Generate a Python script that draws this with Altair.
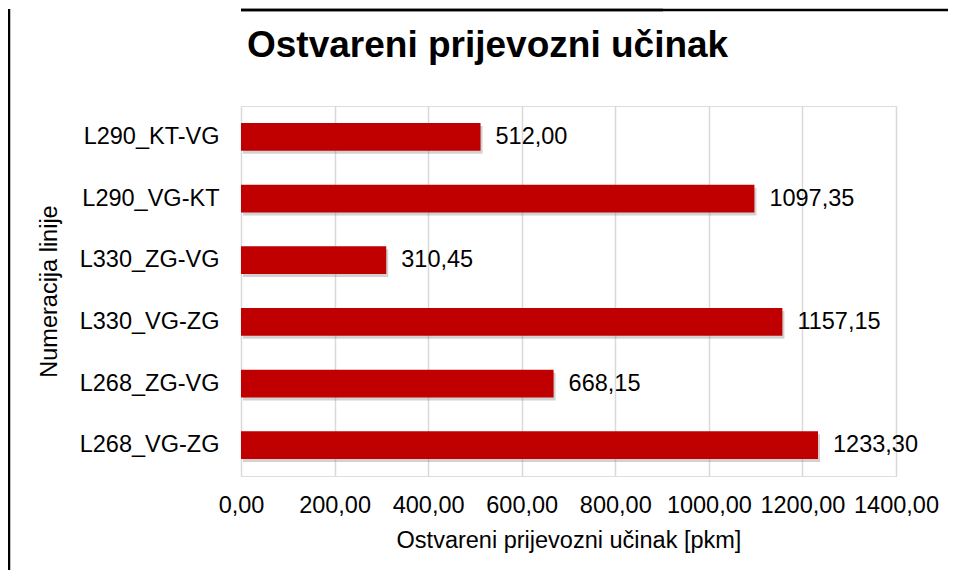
import altair as alt
import pandas as pd

categories = ["L290_KT-VG", "L290_VG-KT", "L330_ZG-VG", "L330_VG-ZG", "L268_ZG-VG", "L268_VG-ZG"]
values = [512.00, 1097.35, 310.45, 1157.15, 668.15, 1233.30]
x_ticks = [0, 200, 400, 600, 800, 1000, 1200, 1400]
title_text = "Ostvareni prijevozni učinak"

FONT = "Liberation Sans"
df = pd.DataFrame({"linija": categories, "ucinak": values})

base = alt.Chart(df).transform_calculate(
    lbl="replace(format(datum.ucinak, '.2f'), '.', ',')"
)

y_enc = alt.Y(
    "linija:N",
    sort=categories,
    scale=alt.Scale(paddingInner=0.55, paddingOuter=0.275),
    axis=alt.Axis(
        title="Numeracija linije",
        labelFont=FONT, labelFontSize=23.5, labelColor="black",
        labelPadding=22, ticks=False, domain=False,
        titleFont=FONT, titleFontSize=23.5, titleFontWeight="normal",
        titleColor="black", titlePadding=18,
    ),
)
x_enc = alt.X(
    "ucinak:Q",
    scale=alt.Scale(domain=[0, 1400], nice=False),
    axis=alt.Axis(
        title="Ostvareni prijevozni učinak [pkm]",
        values=x_ticks,
        labelExpr="replace(format(datum.value, '.2f'), '.', ',')",
        labelOverlap=False, labelBound=False, labelFlush=False,
        labelFont=FONT, labelFontSize=23.5, labelColor="black",
        labelPadding=17, ticks=False, domain=False,
        grid=True, gridColor="#D9D9D9", gridWidth=1.5,
        titleFont=FONT, titleFontSize=23.5, titleFontWeight="normal",
        titleColor="black", titlePadding=12,
    ),
)

shadow = base.mark_bar(color="#7f7f7f", opacity=0.35, xOffset=2, yOffset=3).encode(x=x_enc, y=y_enc)
bars = base.mark_bar(color="#C00000").encode(x=x_enc, y=y_enc)
labels = base.mark_text(
    align="left", baseline="middle", dx=15, font=FONT, fontSize=23.5, color="black"
).encode(x="ucinak:Q", y=alt.Y("linija:N", sort=categories), text="lbl:N")

frame_data = pd.DataFrame({"a": [0]})
left_line = alt.Chart(frame_data).mark_rule(color="black", strokeWidth=2.5).encode(
    x=alt.value(-232), y=alt.value(-97), y2=alt.value(470)
)
top_line_a = alt.Chart(frame_data).mark_rule(
    color="black", strokeWidth=2.5, xOffset=-233, x2Offset=-233
).encode(y=alt.value(-96))
top_line_b = alt.Chart(frame_data).mark_rule(
    color="black", strokeWidth=2.5, xOffset=60, x2Offset=60
).encode(y=alt.value(-96))
title_mark = alt.Chart(frame_data).mark_text(
    align="left", baseline="alphabetic", font=FONT, fontSize=37, fontWeight="bold", color="black"
).encode(x=alt.value(6), y=alt.value(-49), text=alt.value(title_text))

chart = alt.layer(shadow, bars, labels, left_line, top_line_a, top_line_b, title_mark).properties(
    width=655,
    height=370,
    autosize=alt.AutoSizeParams(type="none"),
    padding={"left": 233, "top": 98, "right": 52, "bottom": 94},
).configure_view(stroke=None).configure(background="white")

chart.save("out.html", embed_options={"renderer": "svg", "actions": False})
